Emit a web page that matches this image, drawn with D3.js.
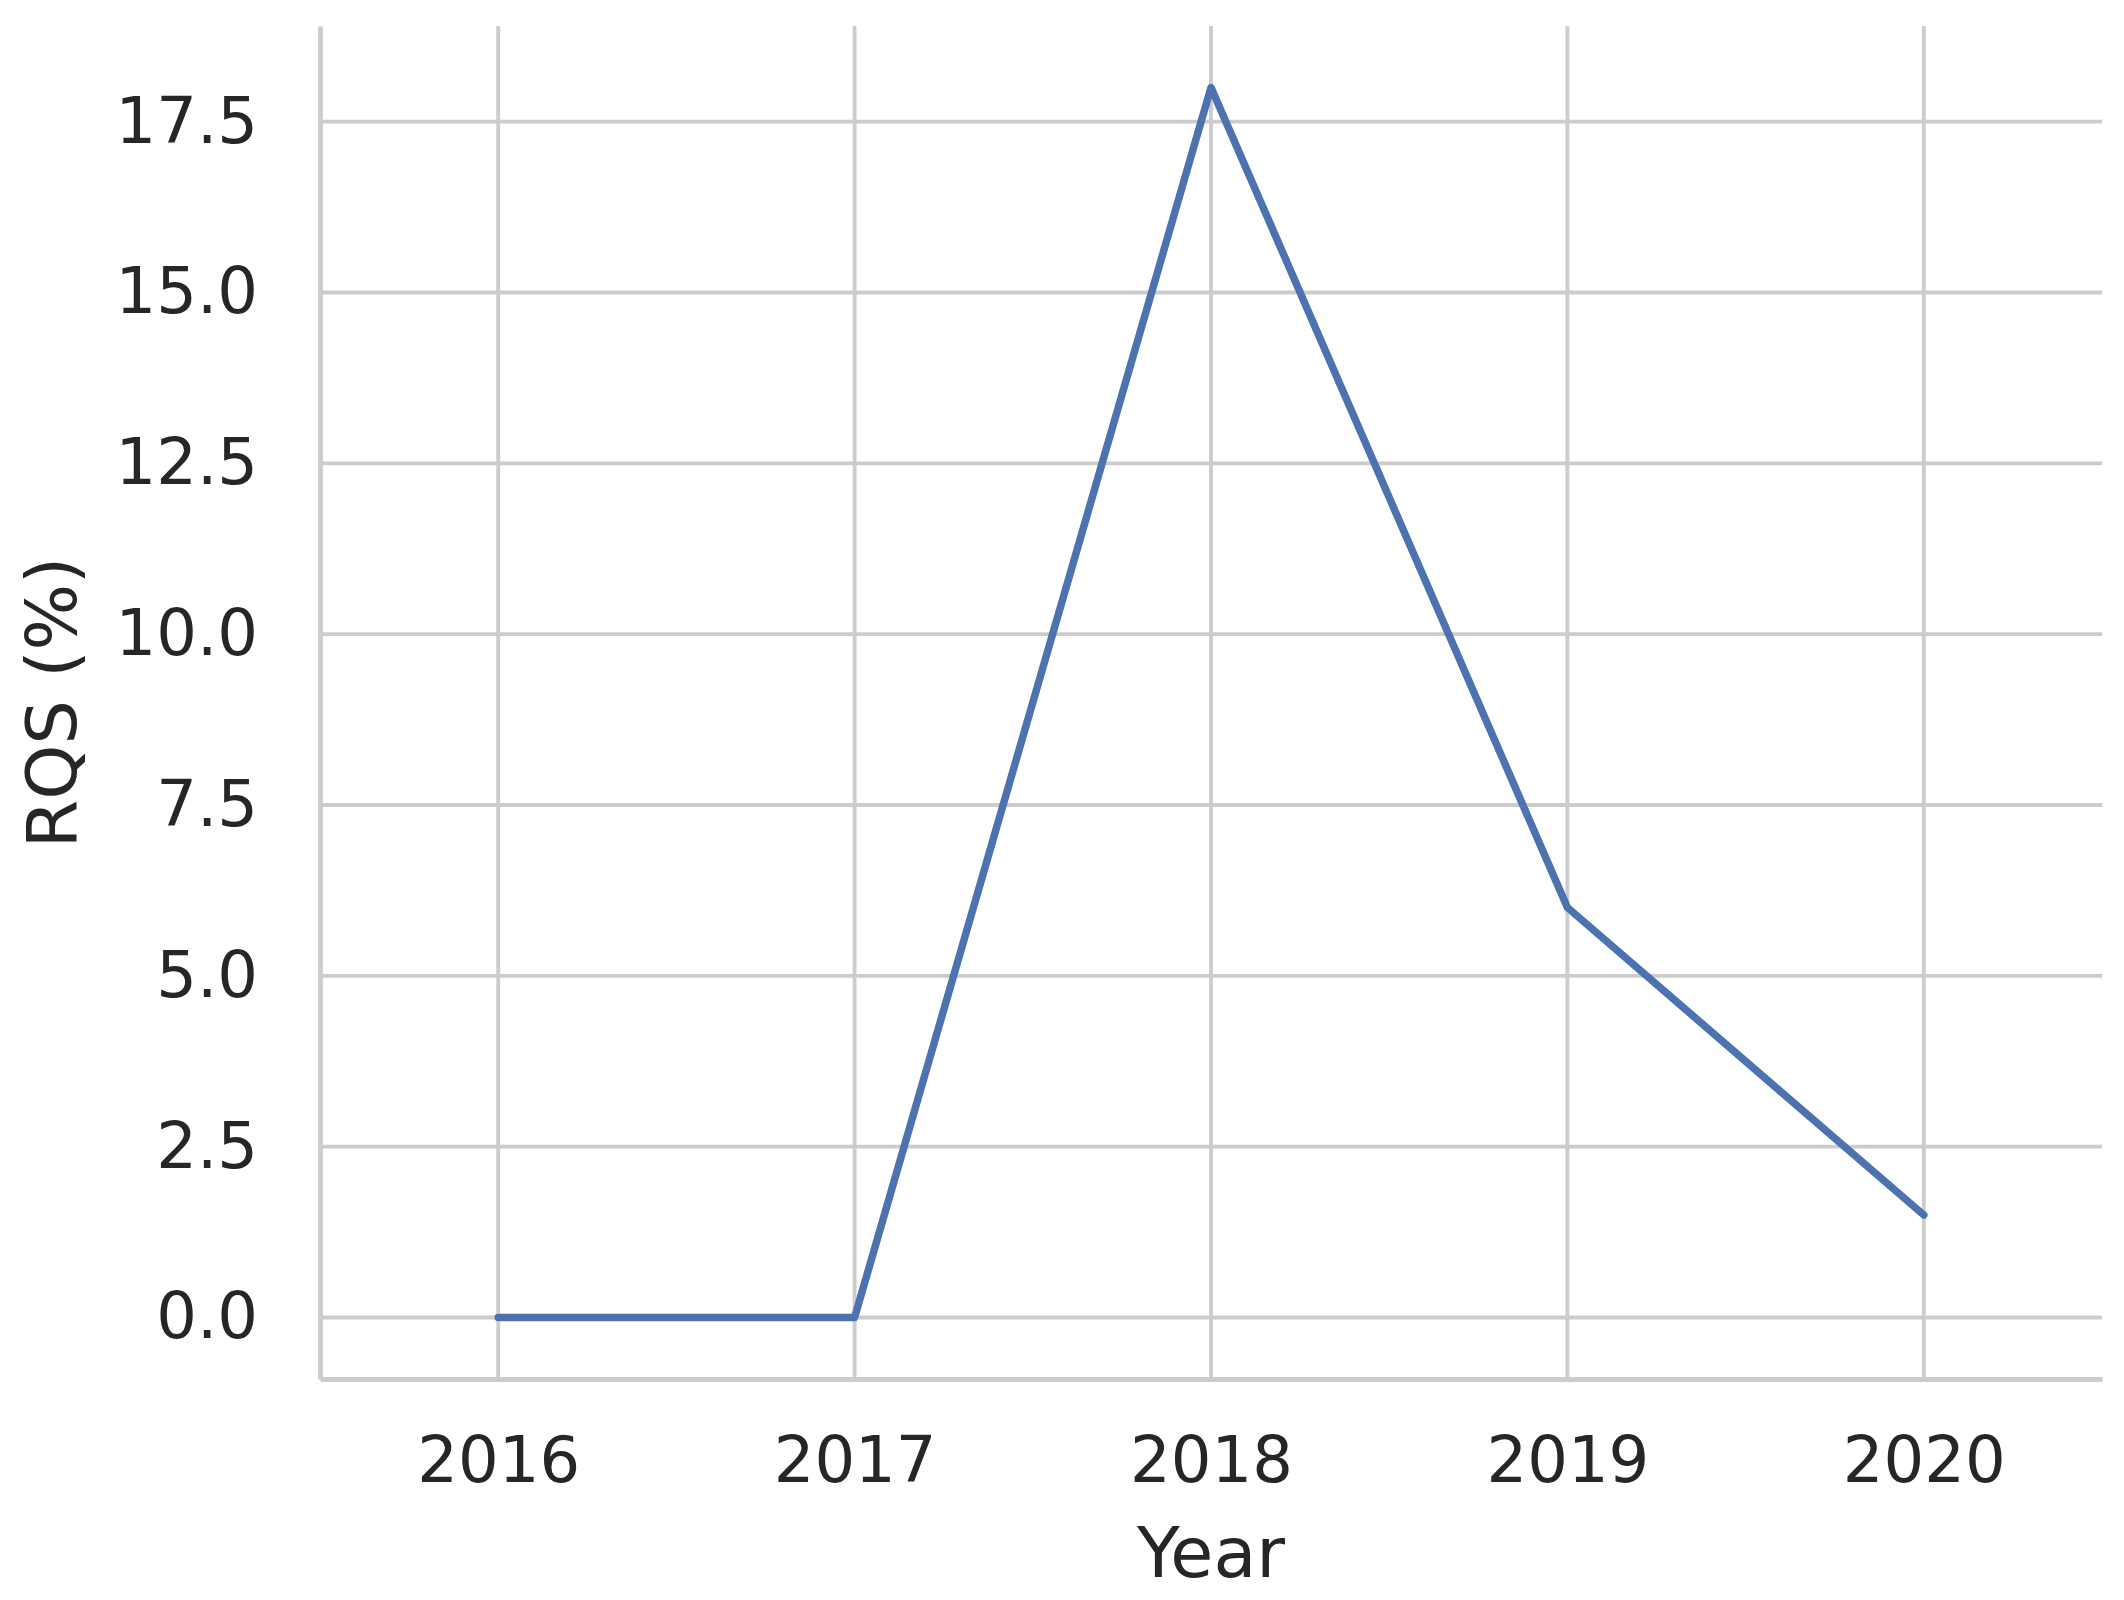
<!DOCTYPE html>
<html lang="en">

<head>
	<meta charset="UTF-8">
	<script src="https://cdn.jsdelivr.net/npm/d3@7"></script>
	<title>RQS by year</title>
	<style>
		body {
			margin: 0;
			background: white;
			font-family: "DejaVu Sans", sans-serif;
		}

		svg {
			display: block;
		}
	</style>
</head>

<body>
	<script>
		// data
		const years = [2016, 2017, 2018, 2019, 2020]
		const rqs = [0, 0, 18, 6, 1.5]
		const yTicks = [0, 2.5, 5, 7.5, 10, 12.5, 15, 17.5]

		const page_dims = { width: 2124, height: 1600 }
		const margin = { left: 320, right: 22, top: 26, bottom: 221 }
		const inner_w = page_dims.width - margin.left - margin.right
		const inner_h = page_dims.height - margin.top - margin.bottom

		const grid_col = "#cccccc"
		const text_col = "#262626"

		const svg = d3.select("body").append("svg")
			.attr("width", page_dims.width)
			.attr("height", page_dims.height)

		const g = svg.append("g")
			.attr("transform", `translate(${margin.left},${margin.top})`)

		/*----------------scales----------------------*/
		const x = d3.scaleLinear()
			.domain([2015.5, 2020.5])
			.range([0, inner_w])

		const y = d3.scaleLinear()
			.domain([-0.9, 18.9])
			.range([inner_h, 0])

		/*----------------grid----------------------*/
		g.append("g")
			.selectAll("line")
			.data(years)
			.join("line")
			.attr("x1", d => x(d)).attr("x2", d => x(d))
			.attr("y1", 0).attr("y2", inner_h)
			.attr("stroke", grid_col)
			.attr("stroke-width", 3.8)

		g.append("g")
			.selectAll("line")
			.data(yTicks)
			.join("line")
			.attr("x1", 0).attr("x2", inner_w)
			.attr("y1", d => y(d)).attr("y2", d => y(d))
			.attr("stroke", grid_col)
			.attr("stroke-width", 3.8)

		/*----------------axes----------------------*/
		const xAxis = g.append("g")
			.attr("transform", `translate(0,${inner_h})`)
			.call(d3.axisBottom(x).tickValues(years).tickFormat(d3.format("d")).tickSize(0).tickPadding(58))
		xAxis.select(".domain").attr("stroke", grid_col).attr("stroke-width", 4.8)
		xAxis.selectAll("text")
			.attr("font-size", 64)
			.attr("fill", text_col)
			.attr("font-family", "DejaVu Sans")

		const yAxis = g.append("g")
			.call(d3.axisLeft(y).tickValues(yTicks).tickFormat(d3.format(".1f")).tickSize(0).tickPadding(62))
		yAxis.select(".domain").attr("stroke", grid_col).attr("stroke-width", 4.8)
		yAxis.selectAll("text")
			.attr("font-size", 64)
			.attr("fill", text_col)
			.attr("font-family", "DejaVu Sans")

		/*----------------line----------------------*/
		const line = d3.line()
			.x((d, i) => x(years[i]))
			.y(d => y(d))

		g.append("path")
			.datum(rqs)
			.attr("d", line)
			.attr("fill", "none")
			.attr("stroke", "#4c72b0")
			.attr("stroke-width", 7.5)
			.attr("stroke-linejoin", "round")
			.attr("stroke-linecap", "round")

		/*----------------labels----------------------*/
		svg.append("text")
			.attr("x", margin.left + inner_w / 2)
			.attr("y", 1577)
			.attr("text-anchor", "middle")
			.attr("font-size", 70)
			.attr("fill", text_col)
			.text("Year")

		svg.append("text")
			.attr("transform", `translate(76,${margin.top + inner_h / 2}) rotate(-90)`)
			.attr("text-anchor", "middle")
			.attr("font-size", 70)
			.attr("fill", text_col)
			.text("RQS (%)")
	</script>
</body>

</html>
